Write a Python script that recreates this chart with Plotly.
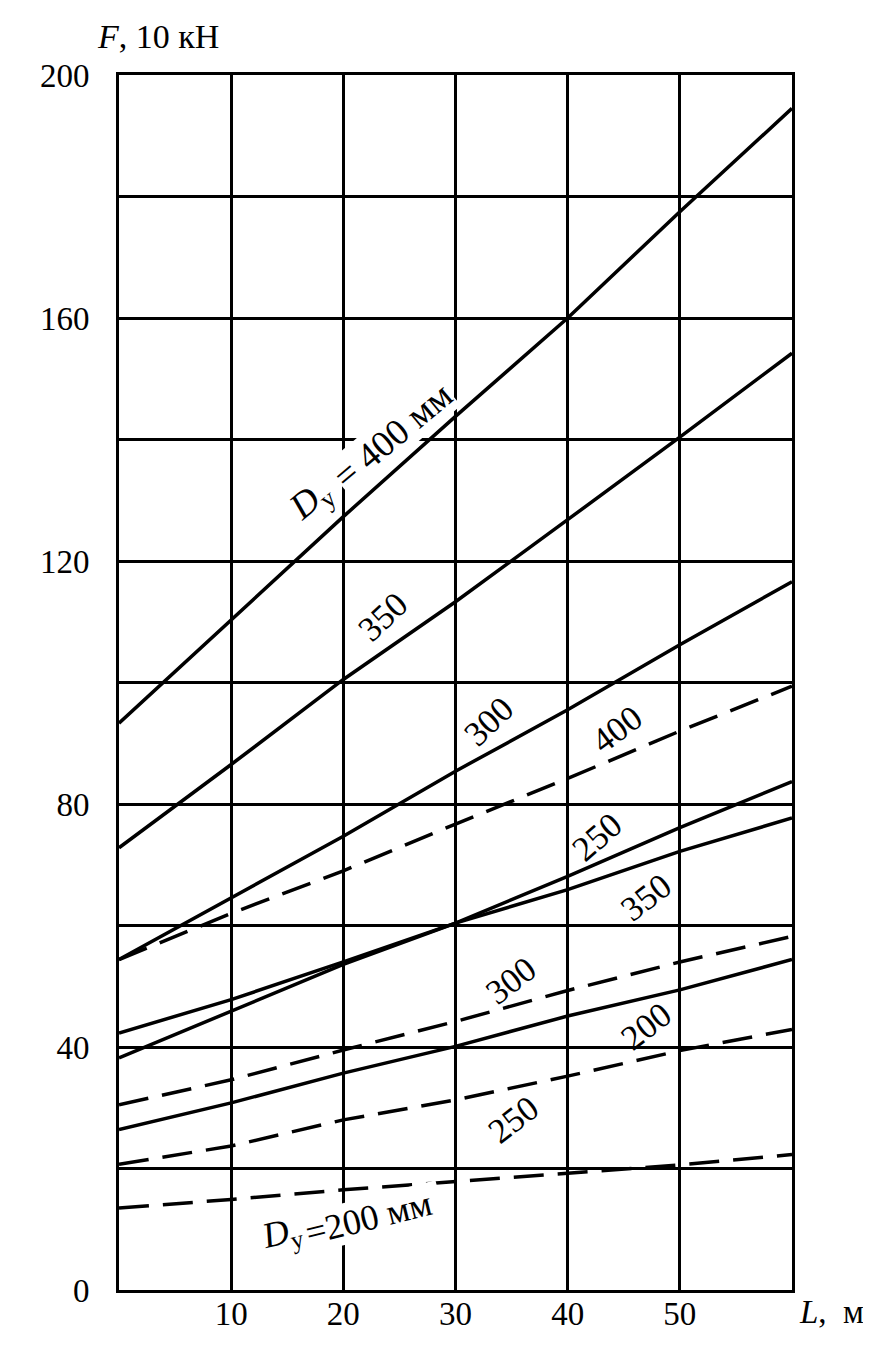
import plotly.graph_objects as go

# ---- data ----
L_m = [0, 10, 20, 30, 40, 50, 60]

# solid curves
F_solid_400 = [93.3, 110.3, 127.3, 143.8, 160.0, 177.5, 194.5]
F_solid_350 = [72.8, 86.5, 100.5, 113.3, 126.8, 140.4, 154.2]
F_solid_300 = [54.4, 64.6, 74.7, 85.4, 95.5, 106.2, 116.6]
F_solid_250 = [38.2, 45.9, 53.6, 60.4, 68.1, 76.1, 83.7]
F_solid_200 = [26.4, 30.8, 35.7, 40.1, 45.1, 49.4, 54.4]

# second family (dashed), the 350 one is printed as a continuous line
F_dash_400 = [54.4, 62.0, 69.0, 76.7, 84.2, 92.0, 99.4]
F_dash_350 = [42.3, 47.8, 54.0, 60.4, 65.9, 72.2, 77.7]
F_dash_300 = [30.5, 34.6, 39.5, 44.2, 49.3, 54.0, 58.2]
F_dash_250 = [20.7, 23.7, 28.0, 31.3, 35.2, 39.4, 42.9]
F_dash_200 = [13.5, 14.9, 16.5, 17.9, 19.3, 20.6, 22.3]

x_ticks = [0, 10, 20, 30, 40, 50, 60]
x_ticktext = ["", "10", "20", "30", "40", "50", ""]
y_ticks = [0, 20, 40, 60, 80, 100, 120, 140, 160, 180, 200]
y_ticktext = ["0", "", "40", "", "80", "", "120", "", "160", "", "200"]

# curve labels (the D_y captions are split so only the plain part masks the grid)
label_text = ["<i>D</i><sub>у</sub>", "= 400 мм", "350", "300", "400", "250", "350",
              "300", "200", "250", "<i>D</i><sub>у</sub>", "=200 мм&nbsp;"]
label_x = [17.2, 24.4, 23.6, 33.0, 44.4, 42.7, 47.0, 35.0, 47.0, 35.2, 14.5, 22.6]
label_y = [129.9, 140.6, 110.8, 93.5, 92.2, 74.6, 64.6, 50.9, 43.4, 28.1, 9.2, 12.0]
label_angle = [-40, -40, -43, -44, -37, -41, -38, -38, -38, -38, -14, -14]
label_size = [37, 37, 35, 35, 35, 35, 35, 35, 35, 35, 36, 36]
label_bg = [False, True, False, False, False, False, False, False, False, False, False, True]

FONT = "Liberation Serif"
fig = go.Figure()

solid = [F_solid_400, F_solid_350, F_solid_300, F_solid_250, F_solid_200, F_dash_350]
dashed = [F_dash_400, F_dash_300, F_dash_250, F_dash_200]

for ys in solid:
    fig.add_trace(go.Scatter(x=L_m, y=ys, mode="lines",
                             line=dict(color="black", width=3.5),
                             showlegend=False, hoverinfo="skip"))
for ys in dashed:
    fig.add_trace(go.Scatter(x=L_m, y=ys, mode="lines",
                             line=dict(color="black", width=3.5, dash="30px,14px"),
                             showlegend=False, hoverinfo="skip"))

for t, lx, ly, a, s, bg in zip(label_text, label_x, label_y, label_angle, label_size, label_bg):
    fig.add_annotation(x=lx, y=ly, xref="x", yref="y", text=t, showarrow=False,
                       textangle=a, font=dict(family=FONT, size=s, color="black"),
                       bgcolor="white" if bg else "rgba(0,0,0,0)", borderpad=0)

fig.add_annotation(x=-0.036, y=1.032, xref="paper", yref="paper", xanchor="left",
                   yanchor="middle", showarrow=False,
                   text="<i>F</i>, 10 кН", font=dict(family=FONT, size=34, color="black"))
fig.add_annotation(x=1.058, y=-0.018, xref="paper", yref="paper", xanchor="center",
                   yanchor="middle", showarrow=False,
                   text="<i>L</i>,  м", font=dict(family=FONT, size=33, color="black"))

axis_common = dict(showgrid=True, gridcolor="black", gridwidth=2.5,
                   showline=True, linecolor="black", linewidth=3, mirror=True,
                   ticks="", zeroline=False,
                   tickfont=dict(family=FONT, size=33, color="black"))
fig.update_xaxes(range=[0, 60], tickmode="array", tickvals=x_ticks,
                 ticktext=x_ticktext, ticklabelstandoff=-8, **axis_common)
fig.update_yaxes(range=[0, 200], tickmode="array", tickvals=y_ticks,
                 ticktext=y_ticktext, ticklabelstandoff=20, **axis_common)

fig.update_layout(width=863, height=1354,
                  margin=dict(l=111, r=79, t=67, b=72),
                  paper_bgcolor="white", plot_bgcolor="white",
                  font=dict(family=FONT, color="black"))

fig.write_html("out.html")
